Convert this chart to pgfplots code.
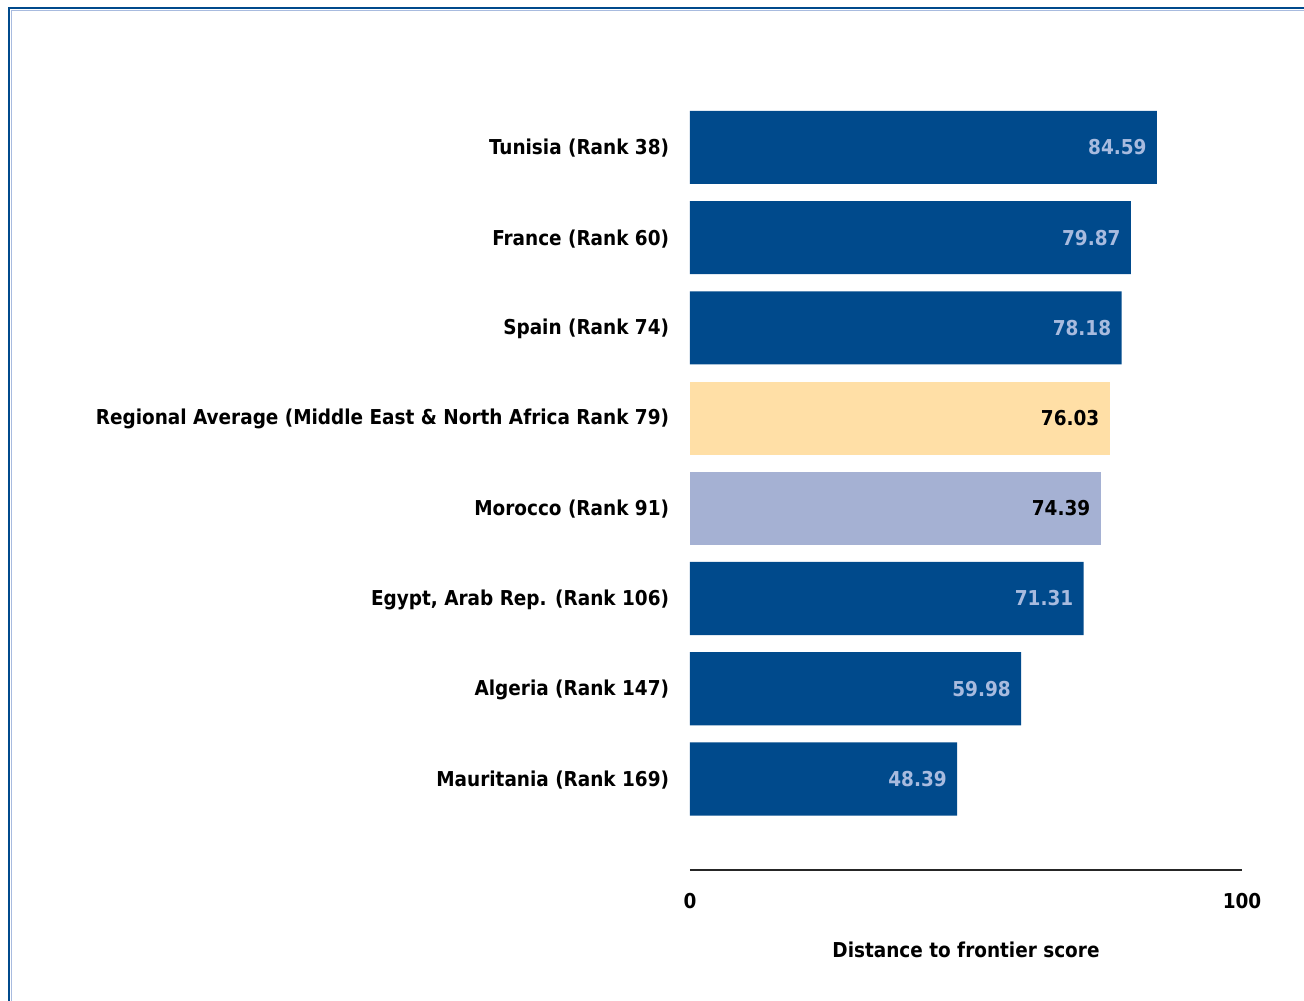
\documentclass[border=0pt]{standalone}
\usepackage{pgfplots}
\pgfplotsset{compat=1.18}
\usepackage{fontspec}
\setmainfont{DejaVu Sans Condensed}[BoldFont={DejaVu Sans Condensed Bold}]
\definecolor{dtfblue}{HTML}{004A8C}
\definecolor{dtflight}{HTML}{A8BBDF}
\definecolor{dtfavg}{HTML}{FFDFA6}
\definecolor{dtfmor}{HTML}{A5B1D3}
\begin{document}
\begin{tikzpicture}[font=\bfseries\fontsize{10.25}{12}\selectfont]
\begin{axis}[
  at={(0,0)}, anchor=south west,
  scale only axis,
  width=276pt, height=384pt,
  xbar, bar shift=0pt, bar width=0.81,
  xmin=0, xmax=100,
  ymin=-1.009, ymax=7.504,
  axis line style={draw=none},
  tick style={draw=none},
  xtick={0,100}, xticklabels={0,100},
  xticklabel style={yshift=-8pt},
  ytick={0,...,7},
  yticklabels={Mauritania (Rank 169),Algeria (Rank 147),Egypt{,} Arab Rep. (Rank 106),Morocco (Rank 91),Regional Average (Middle East \& North Africa Rank 79),Spain (Rank 74),France (Rank 60),Tunisia (Rank 38)},
  yticklabel style={anchor=east, inner sep=0pt, xshift=-6pt, yshift=-0.5pt},
  xlabel={Distance to frontier score},
  xlabel style={at={(axis description cs:0.5,0)}, anchor=center, yshift=-40pt},
  nodes near coords,
  nodes near coords style={anchor=east, inner sep=0pt, xshift=-5pt},
  /pgf/number format/fixed, /pgf/number format/fixed zerofill, /pgf/number format/precision=2,
  /pgf/number format/assume math mode=true,
]
\addplot[fill=dtfblue, draw=none, nodes near coords style={text=dtflight}] coordinates {
  (84.59,7) (79.87,6) (78.18,5) (71.31,2) (59.98,1) (48.39,0)
};
\addplot[fill=dtfavg, draw=none, nodes near coords style={text=black}] coordinates {
  (76.03,4)
};
\addplot[fill=dtfmor, draw=none, nodes near coords style={text=black}] coordinates {
  (74.39,3)
};
\draw[line width=1pt, black!85] (axis cs:0,-1.009) -- (axis cs:100,-1.009);
\end{axis}
% frame round the figure, cut off at right and bottom
\draw[line width=1.2pt, dtfblue] (-340.5pt,-80pt) -- (-340.5pt,431pt) -- (320pt,431pt);
\draw[line width=0.5pt, dtflight] (-339.4pt,-80pt) -- (-339.4pt,429.9pt) -- (320pt,429.9pt);
\pgfresetboundingbox
\useasboundingbox (-345pt,-65pt) rectangle (307pt,435pt);
\end{tikzpicture}
\end{document}
